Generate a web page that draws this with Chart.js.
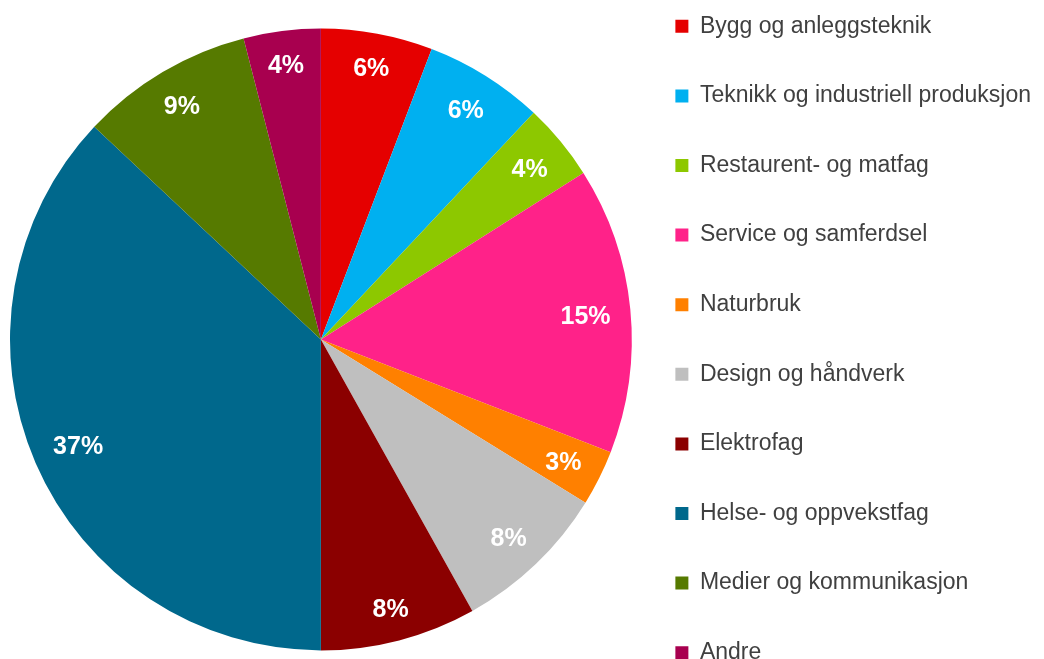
<!DOCTYPE html>
<html>
<head>
<meta charset="utf-8">
<script src="https://cdn.jsdelivr.net/npm/chart.js@4.4.1/dist/chart.umd.min.js"></script>
<style>
  html, body { margin: 0; padding: 0; background: #fff; overflow: hidden; }
  #wrap { position: absolute; left: 0; top: -100px; width: 1044px; height: 879px; }
</style>
</head>
<body>
<div id="wrap"><canvas id="chart1" width="1044" height="879"></canvas></div>
<script>
// programfag, andel av elevene
var categories = ["Bygg og anleggsteknik", "Teknikk og industriell produksjon", "Restaurent- og matfag",
  "Service og samferdsel", "Naturbruk", "Design og håndverk", "Elektrofag",
  "Helse- og oppvekstfag", "Medier og kommunikasjon", "Andre"];
var shares = [5.8, 6.2, 4.0, 14.9, 2.9, 8.1, 8.1, 37.0, 9.0, 4.0];
var colors = ["#E50000", "#00B0F0", "#8DC800", "#FF2289", "#FF8000", "#BFBFBF", "#8B0000", "#00688C", "#567A00", "#A8004F"];

var total = shares.reduce(function(a, b) { return a + b; }, 0);
var percentLabels = shares.map(function(v) { return Math.round(v / total * 100) + "%"; });

// prosent inne i kanten av hver bit
var insideEndLabels = {
  id: "insideEndLabels",
  afterDatasetsDraw: function(chart) {
    var ctx = chart.ctx;
    var meta = chart.getDatasetMeta(0);
    ctx.save();
    ctx.font = "bold 25px 'Liberation Sans', Arial, sans-serif";
    ctx.fillStyle = "#fff";
    ctx.textAlign = "center";
    ctx.textBaseline = "middle";
    meta.data.forEach(function(arc, i) {
      var p = arc.getProps(["x", "y", "startAngle", "endAngle", "outerRadius"], true);
      var mid = (p.startAngle + p.endAngle) / 2;
      var cx = Math.cos(mid), cy = Math.sin(mid);
      var w = ctx.measureText(percentLabels[i]).width;
      var ext = Math.abs(w / 2 * cx) + Math.abs(11 * cy);
      var r = p.outerRadius - 19 - ext;
      ctx.fillText(percentLabels[i], p.x + cx * r, p.y + cy * r + 3);
    });
    ctx.restore();
  }
};

// legenden litt nærmere kaken
var legendNudge = {
  id: "legendNudge",
  afterLayout: function(chart) {
    chart.legend.left -= 3;
    chart.legend.right -= 3;
  }
};

new Chart(document.getElementById("chart1"), {
  type: "pie",
  data: {
    labels: categories,
    datasets: [{ data: shares, backgroundColor: colors, borderWidth: 0 }]
  },
  options: {
    responsive: false,
    animation: false,
    layout: { padding: { left: 10, top: 0, right: 0, bottom: 0 } },
    plugins: {
      tooltip: { enabled: false },
      legend: {
        position: "right",
        align: "center",
        maxWidth: 414,
        labels: {
          boxWidth: 13,
          boxHeight: 13,
          padding: 46.6,
          color: "#404040",
          font: { family: "'Liberation Sans', Arial, sans-serif", size: 23 }
        }
      }
    }
  },
  plugins: [insideEndLabels, legendNudge]
});
</script>
</body>
</html>
